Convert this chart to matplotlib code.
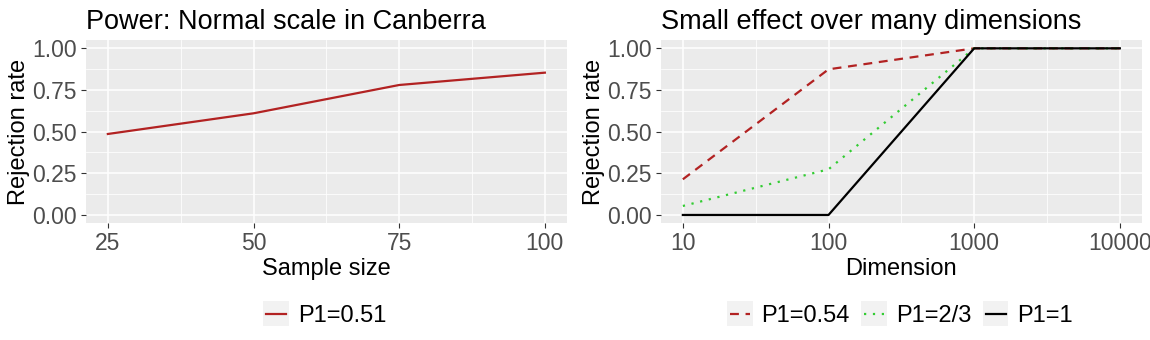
import matplotlib
matplotlib.use("Agg")
import matplotlib.pyplot as plt
from matplotlib.legend_handler import HandlerLine2D
from matplotlib.patches import Rectangle

plt.rcParams["font.family"] = ["Liberation Sans", "DejaVu Sans"]

# Left panel data
sample_size = [25, 50, 75, 100]
power_p051 = [0.486, 0.61, 0.78, 0.854]

# Right panel data
dimension = [10, 100, 1000, 10000]
rate_p054 = [0.214, 0.874, 1.0, 1.0]
rate_p23 = [0.054, 0.274, 1.0, 1.0]
rate_p1 = [0.0, 0.0, 1.0, 1.0]

PANEL_BG = "#EBEBEB"
TICK_COL = "#4D4D4D"
RED = "#B22222"
GREEN = "#33CC33"


class KeyHandler(HandlerLine2D):
    # grey box behind the legend key, like ggplot
    def create_artists(self, legend, orig_handle, xdescent, ydescent,
                       width, height, fontsize, trans):
        bg = Rectangle((-xdescent - 2, -ydescent - 3), width + 4, height + 6,
                       facecolor="#F2F2F2", edgecolor="none", transform=trans)
        arts = super().create_artists(legend, orig_handle, xdescent, ydescent,
                                      width, height, fontsize, trans)
        return [bg] + arts


def style_axes(ax):
    ax.set_facecolor(PANEL_BG)
    for s in ax.spines.values():
        s.set_visible(False)
    ax.grid(which="major", color="white", linewidth=1.1)
    ax.grid(which="minor", color="white", linewidth=0.55)
    ax.set_axisbelow(True)
    ax.tick_params(which="major", length=3.5, width=0.8, color="#333333",
                   labelcolor=TICK_COL, labelsize=16.5, pad=3)
    ax.tick_params(which="minor", length=0)
    ax.set_ylim(-0.05, 1.05)
    ax.set_yticks([0, 0.25, 0.5, 0.75, 1.0])
    ax.set_yticklabels(["0.00", "0.25", "0.50", "0.75", "1.00"])
    ax.set_yticks([0.125, 0.375, 0.625, 0.875], minor=True)
    ax.set_ylabel("Rejection rate", fontsize=17, labelpad=2)


fig = plt.figure(figsize=(11.5, 3.4), dpi=100)
bottom = (340 - 223.3) / 340
height = 183.3 / 340
ax1 = fig.add_axes([86 / 1150, bottom, 480.7 / 1150, height])
ax2 = fig.add_axes([661 / 1150, bottom, 480.7 / 1150, height])

# Left panel
style_axes(ax1)
ax1.plot(sample_size, power_p051, color=RED, lw=1.6, label="P1=0.51")
ax1.set_xlim(21.25, 103.75)
ax1.set_xticks([25, 50, 75, 100])
ax1.set_xticks([37.5, 62.5, 87.5], minor=True)
ax1.set_xlabel("Sample size", fontsize=17, labelpad=2)
ax1.set_title("Power: Normal scale in Canberra", fontsize=19.5, loc="left",
              pad=8)
ax1.legend(loc="upper center", bbox_to_anchor=(0.5, -0.33), frameon=False,
           fontsize=17, handlelength=0.85, handletextpad=0.5,
           handler_map={plt.Line2D: KeyHandler()})

# Right panel
style_axes(ax2)
ax2.set_xscale("log")
ax2.plot(dimension, rate_p054, color=RED, lw=1.6, ls=(0, (4, 3)),
         label="P1=0.54")
ax2.plot(dimension, rate_p23, color=GREEN, lw=1.6, ls=(0, (1, 3)),
         label="P1=2/3")
ax2.plot(dimension, rate_p1, color="black", lw=1.6, label="P1=1")
ax2.set_xlim(10 ** 0.85, 10 ** 4.15)
ax2.set_xticks([10, 100, 1000, 10000])
ax2.set_xticklabels(["10", "100", "1000", "10000"])
ax2.set_xticks([10 ** 1.5, 10 ** 2.5, 10 ** 3.5], minor=True)
ax2.xaxis.set_minor_formatter(matplotlib.ticker.NullFormatter())
ax2.set_xlabel("Dimension", fontsize=17, labelpad=2)
ax2.set_title("Small effect over many dimensions", fontsize=19.5, loc="left",
              pad=8)
ax2.legend(loc="upper center", bbox_to_anchor=(0.5, -0.33), frameon=False,
           fontsize=17, ncol=3, handlelength=0.85, handletextpad=0.5,
           columnspacing=0.6, handler_map={plt.Line2D: KeyHandler()})

plt.savefig("out.png", dpi=100)
